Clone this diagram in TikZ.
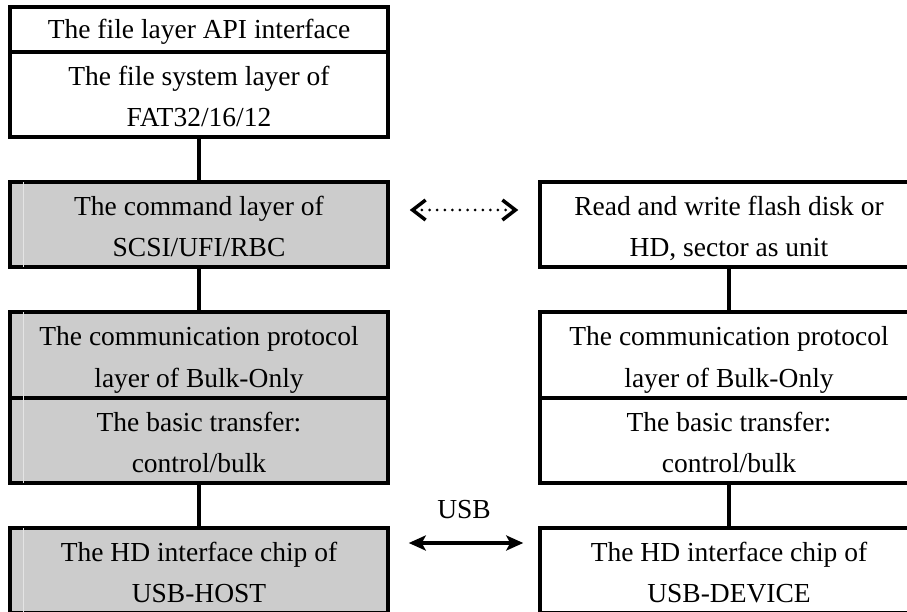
\documentclass[tikz,border=0pt]{standalone}
\usepackage{fontspec}
\setmainfont{Liberation Serif}
\usetikzlibrary{arrows.meta}
\definecolor{boxgray}{RGB}{204,204,204}
\definecolor{stripe}{RGB}{228,228,228}
\newcommand{\mytwolines}[2]{\rule{0pt}{30.7pt}#1\\#2\rule[-8pt]{0pt}{8pt}}
\newcommand{\myoneline}[1]{\rule[-8pt]{0pt}{34.7pt}#1}
\begin{document}
\begin{tikzpicture}[x=1pt,y=-1pt,
  box/.style={draw, line width=3.5pt, minimum width=378pt, minimum height=85pt,
    inner sep=0pt, align=center, font=\fontsize{27.5}{41.5}\selectfont},
  grey/.style={box, fill=boxgray},
  conn/.style={line width=3.5pt},
  dotarrow/.style={line width=3pt, line cap=round, dash pattern=on 0pt off 7.6pt,
    {Straight Barb[length=13pt,width=20pt,line width=3.5pt]}-{Straight Barb[length=13pt,width=20pt,line width=3.5pt]}},
  usbarrow/.style={line width=3.5pt,
    {Stealth[length=17pt,width=15pt,inset=4pt]}-{Stealth[length=17pt,width=15pt,inset=4pt]}},
  stripeline/.style={stripe, line width=1.2pt}
]
\useasboundingbox (0,0) rectangle (907,612);
\clip (0,0) rectangle (907,612);

% left column
\node[box, minimum height=45pt] (api) at (199,29.5) {\myoneline{The file layer API interface}};
\node[box] (fs) at (199,94.5) {\mytwolines{The file system layer of}{FAT32/16/12}};
\node[grey] (cmd) at (199,224.5) {\mytwolines{The command layer of}{SCSI/UFI/RBC}};
\node[grey, minimum height=86pt] (comm) at (199,355) {\mytwolines{The communication protocol}{layer of Bulk-Only}};
\node[grey] (basic) at (199,440.5) {\mytwolines{The basic transfer:}{control/bulk}};
\node[grey] (chip) at (199,570.5) {\mytwolines{The HD interface chip of}{USB-HOST}};

% stripes inside grey boxes
\foreach \b in {cmd,comm,basic,chip}{
  \draw[stripeline] ([xshift=15pt,yshift=-2pt]\b.north west) -- ([xshift=15pt,yshift=2pt]\b.south west);
}

% right column
\node[box] (rw) at (729,224.5) {\mytwolines{Read and write flash disk or}{HD, sector as unit}};
\node[box, minimum height=86pt] (rcomm) at (729,355) {\mytwolines{The communication protocol}{layer of Bulk-Only}};
\node[box] (rbasic) at (729,440.5) {\mytwolines{The basic transfer:}{control/bulk}};
\node[box] (rchip) at (729,570.5) {\mytwolines{The HD interface chip of}{USB-DEVICE}};

% vertical connectors
\draw[conn] (fs.south) -- (cmd.north);
\draw[conn] (cmd.south) -- (comm.north);
\draw[conn] (basic.south) -- (chip.north);
\draw[conn] (rw.south) -- (rcomm.north);
\draw[conn] (rbasic.south) -- (rchip.north);

% horizontal arrows
\draw[dotarrow, shorten <=20pt, shorten >=20pt] ([yshift=14.5pt]cmd.east) -- ([yshift=14.5pt]rw.west);
\draw[usbarrow, shorten <=19pt, shorten >=15pt] ([yshift=27.5pt]chip.east) -- ([yshift=27.5pt]rchip.west)
  node[midway, above=19pt, font=\fontsize{27.5}{30}\selectfont] (usb) {USB};
\end{tikzpicture}
\end{document}
